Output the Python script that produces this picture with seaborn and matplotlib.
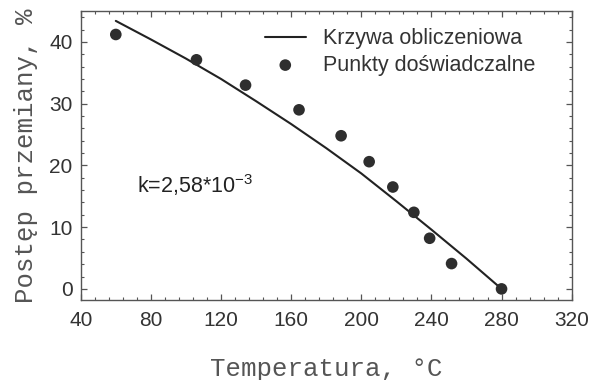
import matplotlib
matplotlib.use("Agg")
import matplotlib.pyplot as plt
import seaborn as sns
import numpy as np
import pandas as pd
from matplotlib.ticker import MultipleLocator

# Experimental points
temp_points = [60, 106, 134, 164.5, 188.5, 204.5, 218, 230, 239, 251.5, 280]
conv_points = [41.2, 37.1, 33.0, 29.0, 24.8, 20.6, 16.5, 12.4, 8.2, 4.1, 0.0]

# Calculated curve
temp_curve = [60, 80, 100, 120, 140, 160, 180, 200, 220, 240, 260, 280]
conv_curve = [43.4, 40.4, 37.3, 34.0, 30.4, 26.7, 22.8, 18.7, 14.2, 9.6, 4.9, 0.0]

x_ticks = [40, 80, 120, 160, 200, 240, 280, 320]
y_ticks = [0, 10, 20, 30, 40]

sns.set_style("ticks")
plt.rcParams['font.family'] = ['Liberation Sans', 'DejaVu Sans']
plt.rcParams['mathtext.fontset'] = 'custom'
plt.rcParams['mathtext.rm'] = 'Liberation Sans'

fig = plt.figure(figsize=(5.91, 3.80), dpi=100)
ax = fig.add_axes([0.1366, 0.2105, 0.8307, 0.7605])

curve_df = pd.DataFrame({"T": temp_curve, "X": conv_curve})
pts_df = pd.DataFrame({"T": temp_points, "X": conv_points})

sns.lineplot(data=curve_df, x="T", y="X", ax=ax, color="#222222", linewidth=1.5,
             label="Krzywa obliczeniowa", sort=True, estimator=None)
sns.scatterplot(data=pts_df, x="T", y="X", ax=ax, color="#2e2e2e", s=70,
                edgecolor="none", label="Punkty doświadczalne", zorder=3)

ax.set_xlim(40, 320)
ax.set_ylim(-1.8, 45)
ax.set_xticks(x_ticks)
ax.set_yticks(y_ticks)
ax.xaxis.set_minor_locator(MultipleLocator(8))
ax.yaxis.set_minor_locator(MultipleLocator(2))

ax.tick_params(which='both', direction='in', top=True, right=True, colors='#555555',
               labelcolor='#333333', labelsize=15)
ax.tick_params(which='major', length=4, width=0.9)
ax.tick_params(which='minor', length=2.5, width=0.8)
ax.tick_params(axis='x', which='major', pad=8)
ax.tick_params(axis='y', which='major', pad=6)

for sp in ax.spines.values():
    sp.set_visible(True)
    sp.set_color('#555555')
    sp.set_linewidth(1.0)

ax.set_xlabel("Temperatura, °C", family=['Liberation Mono', 'DejaVu Sans Mono'],
              fontsize=18.5, color='#555555', labelpad=19)
ax.set_ylabel("Postęp przemiany, %", family=['Liberation Mono', 'DejaVu Sans Mono'],
              fontsize=18.5, color='#555555', labelpad=8)

ax.text(72, 15.5, "k=2,58*10$^{\\mathregular{-3}}$", fontsize=15.5, color='#222222',
        va='baseline', ha='left')

leg = ax.legend(loc='upper left', bbox_to_anchor=(0.375, 0.94), frameon=False,
                fontsize=15.5, handlelength=1.9, handletextpad=0.8,
                borderpad=0, borderaxespad=0, labelspacing=0.25, markerscale=1.0)
for t in leg.get_texts():
    t.set_color('#333333')

fig.savefig("out.png", dpi=100)
